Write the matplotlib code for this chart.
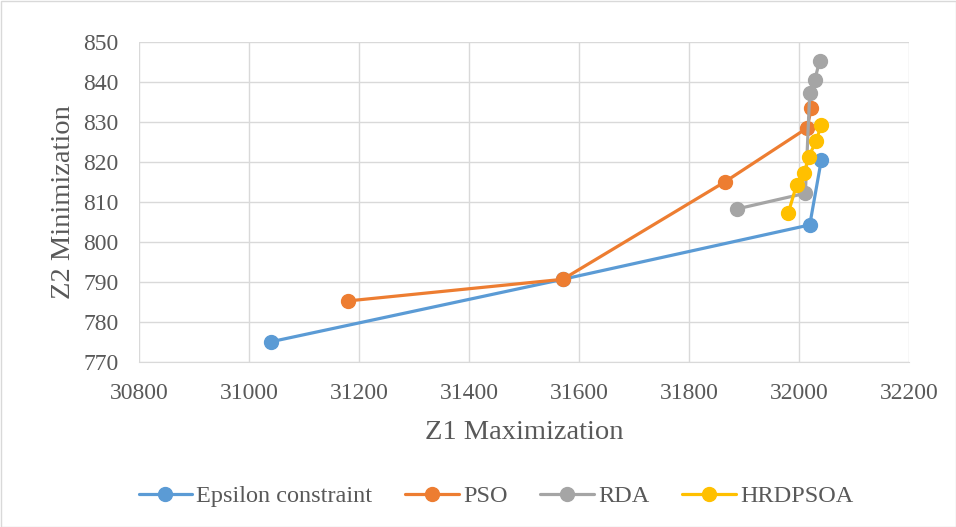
import matplotlib
matplotlib.use("Agg")
import matplotlib.pyplot as plt
from matplotlib.patches import Rectangle

eps_x = [31040, 31570, 32019, 32040]
eps_y = [775, 790.6, 804.2, 820.4]
pso_x = [31180, 31570, 31864, 32014, 32022]
pso_y = [785.2, 790.6, 814.9, 828.4, 833.4]
rda_x = [31887, 32011, 32019, 32028, 32037]
rda_y = [808.2, 812.1, 837.3, 840.4, 845.2]
hrd_x = [31980, 31995, 32009, 32017, 32031, 32040]
hrd_y = [807.2, 814.2, 817.3, 821.2, 825.3, 829.3]

series = [
    ("Epsilon constraint", eps_x, eps_y, "#5b9bd5"),
    ("PSO", pso_x, pso_y, "#ed7d31"),
    ("RDA", rda_x, rda_y, "#a5a5a5"),
    ("HRDPSOA", hrd_x, hrd_y, "#ffc000"),
]

plt.rcParams['font.family'] = ['Liberation Serif', 'DejaVu Serif']

fig = plt.figure(figsize=(9.56, 5.27), dpi=100)
ax = fig.add_axes([139.3/956, 1-361.7/527, (909.3-139.3)/956, (361.7-41.7)/527])

for name, xs, ys, c in series:
    ax.plot(xs, ys, color=c, lw=2.3, marker='o', markersize=10, label=name,
            solid_capstyle='round')

ax.set_xlim(30800, 32200)
ax.set_ylim(770, 850)
ax.set_xticks(range(30800, 32201, 200))
ax.set_yticks(range(770, 851, 10))
ax.grid(True, color='#d9d9d9', lw=1)
ax.set_axisbelow(True)
for s in ['top', 'right', 'left']:
    ax.spines[s].set_visible(False)
ax.spines['bottom'].set_color('#d9d9d9')
ax.tick_params(axis='x', length=0, labelsize=17, colors='#595959', pad=15)
ax.tick_params(axis='y', length=0, labelsize=17, colors='#595959', pad=15)
ax.set_xlabel("Z1 Maximization", fontsize=20.5, color='#595959', labelpad=12)
ax.set_ylabel("Z2 Minimization", fontsize=20.5, color='#595959', labelpad=5)

leg = fig.legend(loc='center', bbox_to_anchor=(496/956, 1-496/527), ncol=4, frameon=False,
                 fontsize=17.5, handlelength=2.2, columnspacing=1.35, handletextpad=0.18)
for t in leg.get_texts():
    t.set_color('#595959')

fig.patches.append(Rectangle((0.5/956, 0.5/527), 1-1/956, 1-1/527, transform=fig.transFigure,
                             fill=False, edgecolor='#d9d9d9', lw=1))

fig.savefig("out.png", dpi=100)
